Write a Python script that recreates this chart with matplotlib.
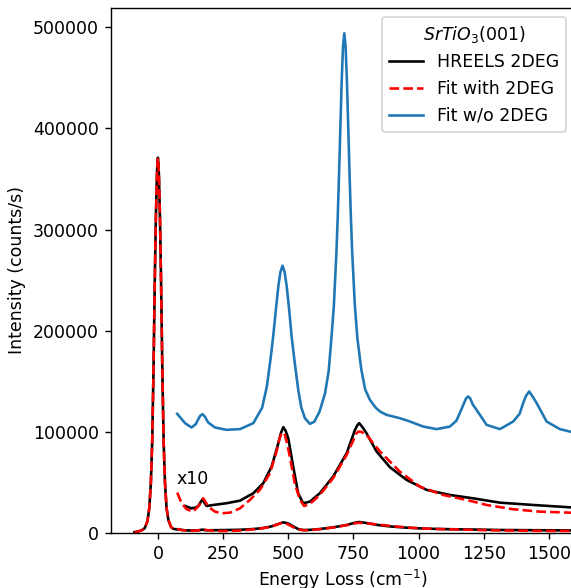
import numpy as np
import matplotlib
matplotlib.use("Agg")
import matplotlib.pyplot as plt

# elastic peak (same for data and fit)
x_el = [-90, -75, -60, -50, -40, -33, -27, -22, -17, -12, -8, -4, -2, 0,
        2, 4, 8, 12, 17, 22, 27, 33, 40, 50, 60]
y_el = [800, 1500, 3000, 5000, 12000, 25000, 50000, 90000, 160000, 250000,
        310000, 352000, 365000, 371000, 365000, 352000, 310000, 250000,
        160000, 90000, 50000, 25000, 13000, 6000, 4000]

# HREELS data, x10 region
x_exp = [104, 129, 145, 155, 165, 171, 178, 187, 212, 263, 315, 366, 404,
         436, 462, 472, 481, 490, 500, 519, 538, 557, 583, 621, 672, 724,
         756, 765, 772, 785, 800, 839, 890, 954, 1031, 1120, 1209, 1312,
         1440, 1580, 1600]
y_exp10 = [26700, 24400, 25200, 26700, 31000, 33300, 30000, 26700, 27700,
           29400, 32000, 39300, 49200, 65600, 88800, 99000, 104600, 101000,
           93700, 65600, 39300, 29400, 31000, 39300, 55700, 78900, 102000,
           106500, 108600, 104500, 98700, 80500, 65000, 52500, 42600, 37600,
           34300, 30000, 27700, 25400, 25200]

# fit with 2DEG, x10 region
x_fit = [74, 91, 110, 135, 159, 167, 174, 182, 193, 219, 244, 276, 315,
         353, 391, 430, 455, 465, 474, 480, 487, 496, 506, 525, 545, 561,
         583, 621, 672, 724, 762, 770, 780, 800, 852, 928, 1005, 1094,
         1184, 1261, 1363, 1465, 1580, 1600]
y_fit10 = [39900, 29400, 23500, 21100, 27700, 32000, 34300, 31000, 26000,
           21100, 19500, 20100, 24400, 32700, 42600, 59100, 80500, 92000,
           98700, 99500, 97000, 88000, 75500, 49200, 32700, 26700, 28700,
           37600, 54200, 77200, 98700, 100300, 100000, 97000, 80500, 60700,
           45800, 37600, 32700, 27700, 23500, 21100, 20100, 19900]

# fit without 2DEG (offset)
x_no = [74, 104, 129, 145, 155, 163, 171, 180, 193, 219, 263, 315, 366,
        400, 418, 432, 442, 453, 462, 470, 478, 486, 494, 503, 513, 525,
        538, 550, 564, 583, 600, 620, 641, 655, 666, 675, 685, 690, 695,
        700, 705, 710, 715, 720, 725, 730, 735, 740, 745, 755, 765, 780,
        795, 813, 835, 852, 877, 928, 967, 1018, 1069, 1120, 1145, 1158,
        1172, 1182, 1190, 1198, 1208, 1222, 1261, 1312, 1363, 1388, 1401,
        1412, 1424, 1436, 1453, 1491, 1542, 1580, 1600]
y_no = [117800, 108600, 104300, 107500, 112600, 116000, 117500, 115000,
        109200, 104300, 102000, 102700, 108600, 124000, 145000, 172000,
        194000, 222000, 244000, 258000, 264300, 258000, 244000, 222000,
        194000, 168000, 142000, 124000, 113500, 107900, 110000, 120000,
        138000, 160000, 194000, 225000, 279000, 314000, 356000, 402000,
        447000, 481000, 494000, 481000, 447000, 402000, 356000, 314000,
        279000, 227000, 193000, 162000, 142000, 131700, 124000, 120100,
        116800, 113500, 110200, 105200, 102700, 105200, 111000, 118500,
        127000, 133000, 135000, 133000, 127000, 121800, 106900, 102700,
        110200, 118000, 128400, 135500, 139900, 135500, 128400, 110200,
        102700, 100300, 99500]

x_full_exp = np.array(x_el + x_exp)
y_full_exp = np.array(y_el + [v / 10 for v in y_exp10])
x_full_fit = np.array(x_el + x_fit)
y_full_fit = np.array(y_el + [v / 10 for v in y_fit10])

fig = plt.figure(figsize=(571 / 125, 588 / 125), dpi=125)
ax = fig.add_axes([111 / 571, 55 / 588, 464 / 571, 525 / 588])

ax.plot(x_full_exp, y_full_exp, color='black', label='HREELS 2DEG')
ax.plot(x_exp, y_exp10, color='black')
ax.plot(x_full_fit, y_full_fit, 'r--', label='Fit with 2DEG')
ax.plot(x_fit, y_fit10, 'r--')
ax.plot(x_no, y_no, color='tab:blue', label='Fit w/o 2DEG')

ax.text(73, 53500, 'x10', ha='left', va='center')

ax.set_xlim(-180, 1600)
ax.set_ylim(0, 519000)
ax.set_xticks([0, 250, 500, 750, 1000, 1250, 1500])
ax.set_yticks([0, 100000, 200000, 300000, 400000, 500000])
ax.set_xlabel("Energy Loss (cm$^{-1}$)", labelpad=2.5)
ax.set_ylabel("Intensity (counts/s)")
ax.legend(title=r'$SrTiO_3$(001)', loc='upper right')

fig.savefig("out.png", dpi=125)
